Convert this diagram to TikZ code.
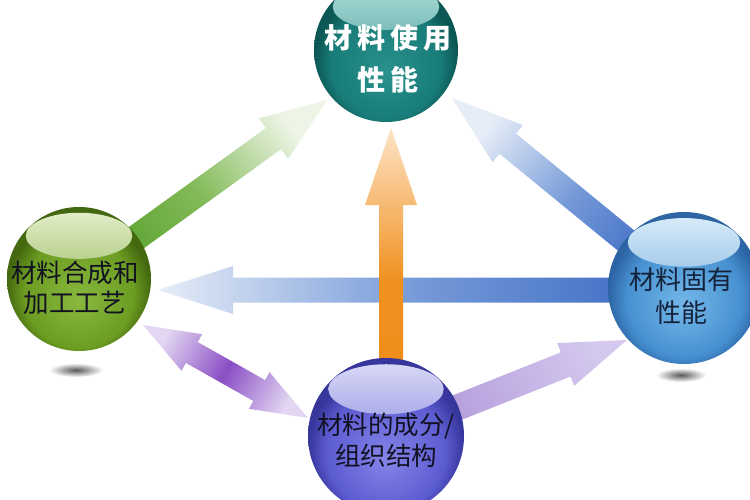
\documentclass[tikz,border=0pt]{standalone}
\usepackage{fontspec}
\newfontfamily\cjk{Noto Sans CJK SC}
\usetikzlibrary{calc}
\definecolor{tealL}{HTML}{2A918C}
\definecolor{tealM}{HTML}{187C78}
\definecolor{tealD}{HTML}{0C5653}
\definecolor{tealH}{HTML}{B4E2DE}
\definecolor{grnL}{HTML}{8AB83E}
\definecolor{grnM}{HTML}{6C9C22}
\definecolor{grnD}{HTML}{44680F}
\definecolor{grnH}{HTML}{E6F0CE}
\definecolor{bluL}{HTML}{74B8EA}
\definecolor{bluM}{HTML}{4690D0}
\definecolor{bluD}{HTML}{2C64A4}
\definecolor{bluH}{HTML}{DCEEFA}
\definecolor{purL}{HTML}{8484E8}
\definecolor{purM}{HTML}{5C5CD2}
\definecolor{purD}{HTML}{36369C}
\definecolor{purH}{HTML}{DCDCF8}
\definecolor{aBlueTip}{HTML}{E6EDF7}
\definecolor{aBlueMid}{HTML}{7499D8}
\definecolor{aBlueTail}{HTML}{3A68C2}
\definecolor{aOrTip}{HTML}{FDE4C8}
\definecolor{aOrMid}{HTML}{F0901E}
\definecolor{aOrTail}{HTML}{EF8C1A}
\definecolor{aGrTip}{HTML}{EEF5E6}
\definecolor{aGrMid}{HTML}{82BA58}
\definecolor{aGrTail}{HTML}{56A02A}
\definecolor{aPuEnd}{HTML}{E2D6F2}
\definecolor{aPuMid}{HTML}{8A4EC4}
\definecolor{aLavTip}{HTML}{D4C8EE}
\definecolor{aLavTail}{HTML}{AE94D8}
\definecolor{navyText}{HTML}{15223A}
\definecolor{darkText}{HTML}{111122}
\pgfdeclareradialshading{sphteal}{\pgfpoint{0bp}{-8bp}}{color(0bp)=(tealL); color(19bp)=(tealM); color(25bp)=(tealD); color(50bp)=(tealD)}
\pgfdeclareradialshading{sphgreen}{\pgfpoint{0bp}{-8bp}}{color(0bp)=(grnL); color(19bp)=(grnM); color(25bp)=(grnD); color(50bp)=(grnD)}
\pgfdeclareradialshading{sphblue}{\pgfpoint{0bp}{-6bp}}{color(0bp)=(bluL); color(19bp)=(bluM); color(25bp)=(bluD); color(50bp)=(bluD)}
\pgfdeclareradialshading{sphpurple}{\pgfpoint{0bp}{-8bp}}{color(0bp)=(purL); color(19bp)=(purM); color(25bp)=(purD); color(50bp)=(purD)}
\newcommand{\fatarrow}[7]{%
  \coordinate (#1-b) at ($(#3)!#6!(#2)$);
  \shade[#7] ($(#2)!#4!90:(#3)$) -- ($(#1-b)!#4!-90:(#2)$) -- ($(#1-b)!#5!-90:(#2)$) -- (#3)
    -- ($(#1-b)!#5!90:(#2)$) -- ($(#1-b)!#4!90:(#2)$) -- ($(#2)!#4!-90:(#3)$) -- cycle;}
\tikzset{
  ball/.style n args={4}{circle, inner sep=0pt, minimum size=2*#2, shade, shading=#1,
    path picture={\shade[top color=#3, bottom color=#4]
      ($(path picture bounding box.center)!0.6!(path picture bounding box.north)$)
      ellipse [x radius={0.74*#2}, y radius={0.32*#2}];}},
  lbl/.style={align=center, inner sep=0pt},
  shadowblob/.style={inner color=black!65, outer color=white}
}
\begin{document}
\begin{tikzpicture}[x=1pt,y=-1pt]
\useasboundingbox (0,0) rectangle (750,500);
\fill[white] (0,0) rectangle (750,500);
% centres and arrow ends
\coordinate (cT) at (386,50);
\coordinate (cL) at (79,279);
\coordinate (cR) at (684,288);
\coordinate (cB) at (386,436);
\coordinate (tailH) at (684,290);
\coordinate (tipH) at (158,290);
\coordinate (tailO) at (391,436);
\coordinate (tipO) at (391,128);
\coordinate (tipG) at (327,100);
\coordinate (tipBl) at (452,98);
\coordinate (tipP) at (627,340);
\coordinate (dA) at (143,325);
\coordinate (dB) at (308,418);
% arrows
\fatarrow{ah}{tailH}{tipH}{12.5pt}{24pt}{75pt}{top color=aBlueTip, bottom color=aBlueTail, middle color=aBlueMid, shading angle=90}
\fatarrow{ao}{tailO}{tipO}{12pt}{26pt}{77pt}{top color=aOrTip, bottom color=aOrTail, middle color=aOrMid, shading angle=0}
\fatarrow{ag}{cL}{tipG}{13pt}{25pt}{66pt}{top color=aGrTip, bottom color=aGrTail, middle color=aGrMid, shading angle=-54.2}
\fatarrow{ab}{cR}{tipBl}{13pt}{24pt}{72pt}{top color=aBlueTip, bottom color=aBlueTail, middle color=aBlueMid, shading angle=50.7}
\fatarrow{ap}{cB}{tipP}{13pt}{23pt}{66pt}{top color=aLavTip, bottom color=aLavTail, shading angle=-68.3}
% double arrow
\coordinate (d1) at ($(dA)!56pt!(dB)$);
\coordinate (d2) at ($(dB)!56pt!(dA)$);
\shade[top color=aPuEnd, bottom color=aPuEnd, middle color=aPuMid, shading angle=60.6]
  (dA) -- ($(d1)!21pt!90:(dB)$) -- ($(d1)!12pt!90:(dB)$) -- ($(d2)!12pt!-90:(dA)$) -- ($(d2)!21pt!-90:(dA)$)
  -- (dB) -- ($(d2)!21pt!90:(dA)$) -- ($(d2)!12pt!90:(dA)$) -- ($(d1)!12pt!-90:(dB)$) -- ($(d1)!21pt!-90:(dB)$) -- cycle;
% shadows
\shade[shadowblob] (76,370) ellipse [x radius=27, y radius=7];
\shade[shadowblob] (681,375) ellipse [x radius=25, y radius=7];
% spheres
\node[ball={sphteal}{72}{tealH}{tealM}] (sT) at (cT) {};
\node[ball={sphgreen}{72}{grnH}{grnM}] (sL) at (cL) {};
\node[ball={sphblue}{76}{bluH}{bluM}] (sR) at (cR) {};
\node[ball={sphpurple}{78}{purH}{purM}] (sB) at (cB) {};
% labels
\node[lbl, text=white, font=\cjk\bfseries\fontsize{28}{42}\selectfont] (tT) at (388,59)
  {材\hspace{5pt}料\hspace{5pt}使\hspace{5pt}用\\性\hspace{5pt}能};
\node[lbl, text=darkText, font=\cjk\fontsize{25.5}{30}\selectfont] (tL) at (75,288) {材料合成和\\加工工艺};
\node[lbl, text=navyText, font=\cjk\fontsize{26}{33}\selectfont] (tR) at (681,296) {材料固有\\性能};
\node[lbl, text=darkText, font=\cjk\fontsize{25.5}{31}\selectfont] (tB) at (386,440) {材料的成分/\\组织结构};
\end{tikzpicture}
\end{document}
